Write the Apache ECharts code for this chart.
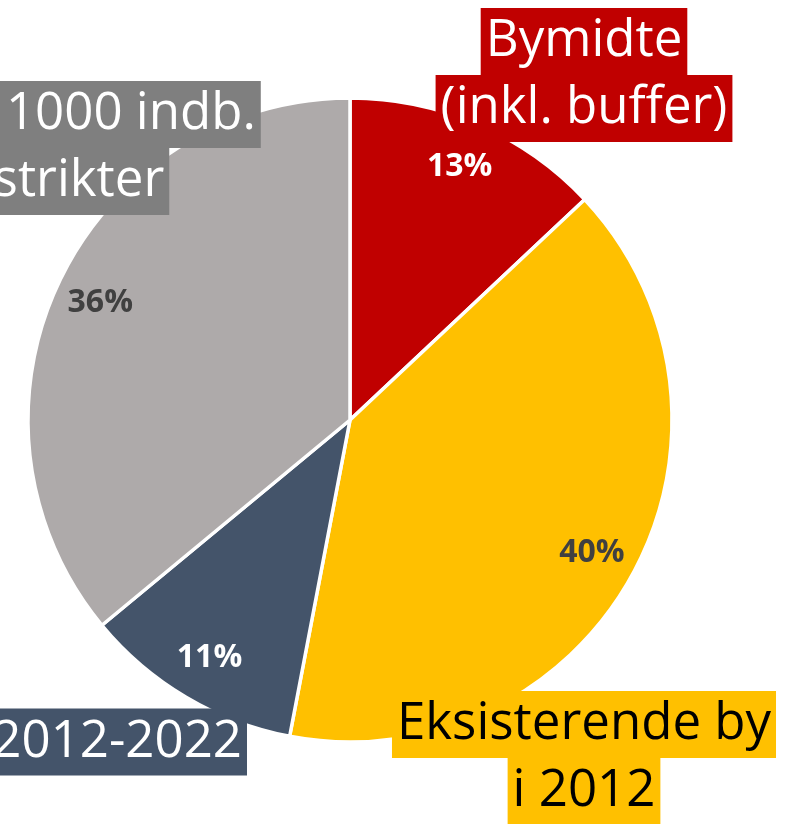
<!DOCTYPE html>
<html>
<head>
<meta charset="utf-8">
<script src="https://cdn.jsdelivr.net/npm/echarts@6/dist/echarts.min.js"></script>
<style>
  html, body { margin: 0; padding: 0; background: #fff; }
  #chart { width: 794px; height: 824px; }
</style>
</head>
<body>
<div id="chart"></div>
<script>
// data
const categories = ['Bymidte\n(inkl. buffer)', 'Eksisterende by\ni 2012', 'Ny by 2012-2022', 'Byer under 1000 indb.\ni landdistrikter']
const shares = [13, 40, 11, 36]

// styles
const sliceColors = ['#C00000', '#FFC000', '#44546A', '#AEAAAA']
const boxColors = ['#C00000', '#FFC000', '#44546A', '#7F7F7F']
const boxTextColors = ['#fff', '#000', '#fff', '#fff']
const pctColors = ['#fff', '#404040', '#fff', '#404040']
const boxPos = [
  { x: 584, y: 75, align: 'center' },
  { x: 584, y: 758, align: 'center' },
  { x: 247, y: 742, align: 'right' },
  { x: -8, y: 148, align: 'center' }
]

const font = '"Open Sans", "Noto Sans", sans-serif'

const chart = echarts.init(document.getElementById('chart'), null, { renderer: 'canvas' })

const mainData = categories.map((name, i) => ({
  name: name,
  value: shares[i],
  itemStyle: { color: sliceColors[i] },
  label: {
    rich: {
      box: {
        backgroundColor: boxColors[i],
        color: boxTextColors[i],
        fontFamily: font,
        fontSize: 51,
        lineHeight: 67,
        height: 67,
        padding: [0, 5]
      }
    }
  }
}))

const pctData = categories.map((name, i) => ({
  name: name,
  value: shares[i],
  label: { color: pctColors[i] }
}))

chart.setOption({
  animation: false,
  series: [
    {
      type: 'pie',
      center: [350, 420],
      radius: 322,
      startAngle: 90,
      clockwise: true,
      itemStyle: { borderColor: '#fff', borderWidth: 3.5 },
      label: {
        show: true,
        position: 'outside',
        overflow: 'none',
        formatter: (p) => p.name.split('\n').map(s => '{box|' + s + '}').join('\n')
      },
      labelLine: { show: false },
      labelLayout: (p) => {
        const pos = boxPos[p.dataIndex]
        return { x: pos.x, y: pos.y, align: pos.align, verticalAlign: 'middle' }
      },
      data: mainData
    },
    {
      type: 'pie',
      center: [350, 420],
      radius: [224, 322],
      startAngle: 90,
      clockwise: true,
      silent: true,
      itemStyle: { color: 'rgba(0,0,0,0)' },
      label: {
        show: true,
        position: 'inside',
        fontFamily: font,
        fontWeight: 'bold',
        fontSize: 32,
        formatter: (p) => p.value + '%'
      },
      labelLine: { show: false },
      data: pctData
    }
  ]
})
</script>
</body>
</html>
